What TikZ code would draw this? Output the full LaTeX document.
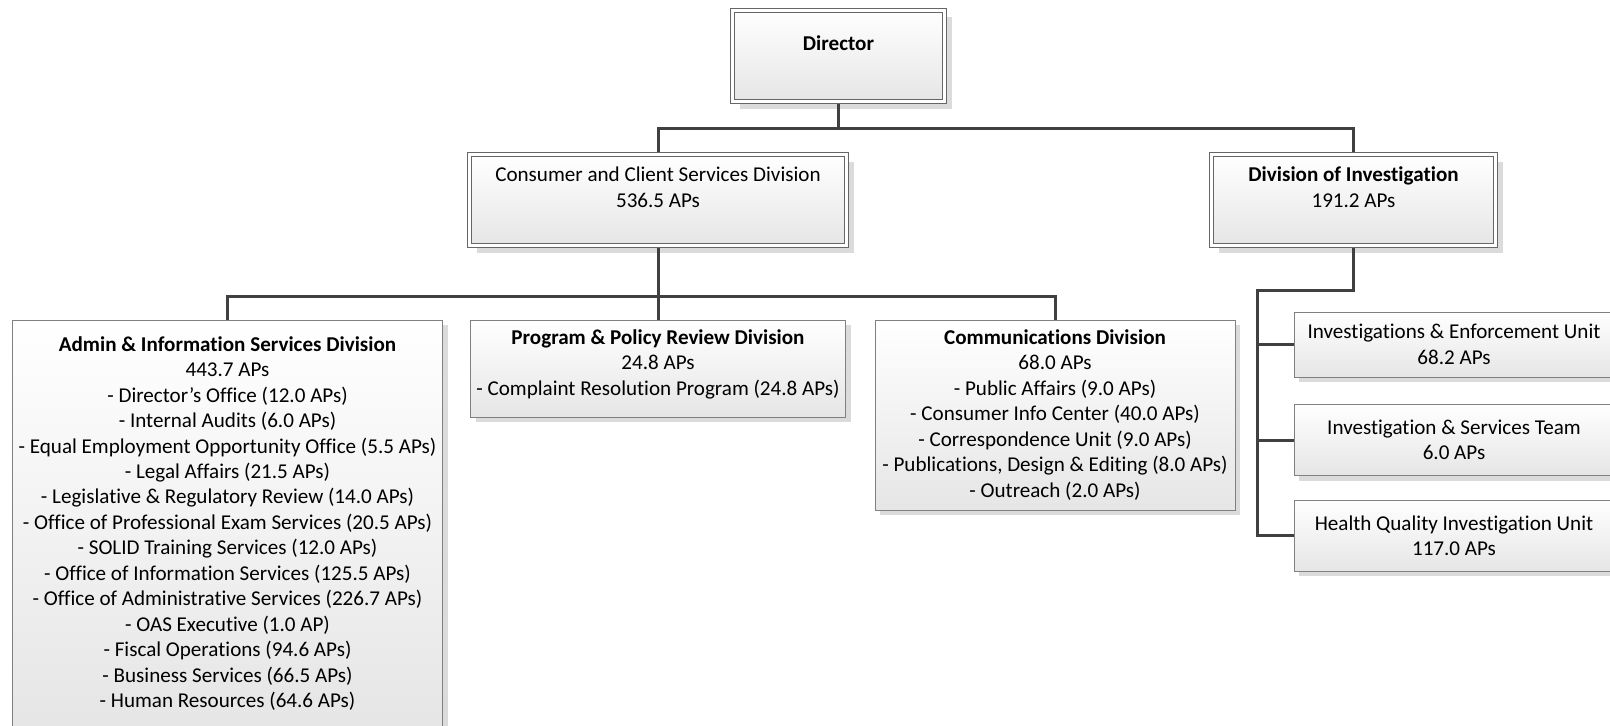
\documentclass[tikz,border=0pt]{standalone}
\usepackage{fontspec}
\setmainfont{Carlito}[Ligatures={TeX,NoCommon}]
\usepackage{tikz}
\usetikzlibrary{shapes,arrows,arrows.meta,shadows}

\begin{document}
\begin{tikzpicture}[unitbox/.style={font=\fontsize{12pt}{14.5pt}\selectfont, top color=white, bottom color=black!10, align=center},
  orgbox/.style={unitbox, draw=black!50, line width=0.02cm, drop shadow={shadow xshift=0.1cm, shadow yshift=-0.1cm, fill=black!14, opacity=1}},
  headbox/.style={unitbox, draw=black!60, line width=0.02cm, double=white, double distance=0.06cm, outer sep=0.05cm, drop shadow={shadow xshift=0.14cm, shadow yshift=-0.14cm, fill=black!14, opacity=1}},
  link/.style={draw=black!75, line width=0.06cm}]
\useasboundingbox (0,0) rectangle (32.2,-14.52);
%top levels
\node[headbox, minimum width=4.24cm, minimum height=1.82cm] (dir) at (16.77,-1.12) {\textbf{Director}\\~};
\node[headbox, minimum width=7.54cm, minimum height=1.82cm] (cons) at (13.16,-4.00) {Consumer and Client Services Division\\536.5 APs\\~};
\node[headbox, minimum width=5.68cm, minimum height=1.82cm] (doi) at (27.07,-4.00) {\textbf{Division of Investigation}\\191.2 APs\\~};
%divisions
\node[orgbox, minimum width=8.6cm, minimum height=8.14cm] (admin) at (4.55,-10.47) {\textbf{Admin \& Information Services Division}\\443.7 APs\\- Director’s Office (12.0 APs)\\- Internal Audits (6.0 APs)\\- Equal Employment Opportunity Office (5.5 APs)\\- Legal Affairs (21.5 APs)\\- Legislative \& Regulatory Review (14.0 APs)\\- Office of Professional Exam Services (20.5 APs)\\- SOLID Training Services (12.0 APs)\\- Office of Information Services (125.5 APs)\\- Office of Administrative Services (226.7 APs)\\- OAS Executive (1.0 AP)\\- Fiscal Operations (94.6 APs)\\- Business Services (66.5 APs)\\- Human Resources (64.6 APs)};
\node[orgbox, minimum width=7.42cm, minimum height=1.94cm] (prog) at (13.16,-7.37) {\textbf{Program \& Policy Review Division}\\24.8 APs\\- Complaint Resolution Program (24.8 APs)\\[-0.27cm]~};
\node[orgbox, minimum width=7.2cm, minimum height=3.8cm] (comm) at (21.10,-8.30) {\textbf{Communications Division}\\68.0 APs\\- Public Affairs (9.0 APs)\\- Consumer Info Center (40.0 APs)\\- Correspondence Unit (9.0 APs)\\- Publications, Design \& Editing (8.0 APs)\\- Outreach (2.0 APs)};
%investigation units
\node[orgbox, minimum width=6.4cm, minimum height=1.30cm] (inv) at (29.08,-6.89) {Investigations \& Enforcement Unit\\68.2 APs};
\node[orgbox, minimum width=6.4cm, minimum height=1.42cm] (team) at (29.08,-8.80) {Investigation \& Services Team\\6.0 APs};
\node[orgbox, minimum width=6.4cm, minimum height=1.42cm] (hq) at (29.08,-10.71) {Health Quality Investigation Unit\\117.0 APs};
%connectors
\coordinate (j1) at (16.77,-2.56);
\coordinate (j2) at (13.16,-5.92);
\coordinate (j3) at (27.07,-5.80);
\coordinate (trunk) at (25.14,-5.80);
\draw[link] (dir) -- (j1);
\draw[link] (cons.north) |- (j1) -| (doi.north);
\draw[link] (cons) -- (j2);
\draw[link] (admin.north) |- (j2) -| (comm.north);
\draw[link] (j2) -- (prog);
\draw[link] (doi) -- (j3) -- (trunk) |- (hq.west);
\draw[link] (trunk) |- (inv.west);
\draw[link] (trunk) |- (team.west);
\end{tikzpicture}
\end{document}
